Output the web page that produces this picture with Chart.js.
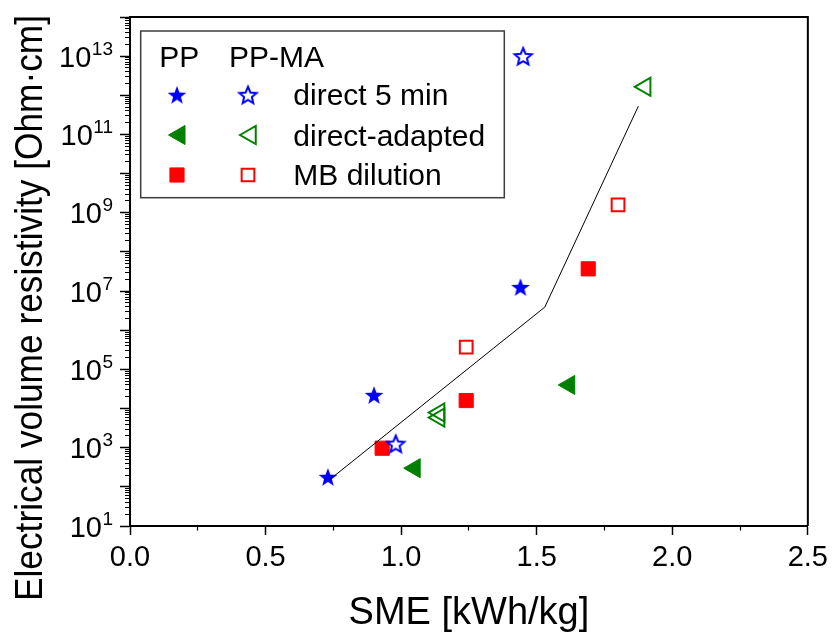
<!DOCTYPE html>
<html>
<head>
<meta charset="utf-8">
<title>Electrical volume resistivity vs SME</title>
<script src="https://cdn.jsdelivr.net/npm/chart.js@4.4.0/dist/chart.umd.min.js"></script>
<style>
  html, body { margin: 0; padding: 0; background: #fff; }
  #chart { display: block; }
</style>
</head>
<body>
<canvas id="chart" width="834" height="633"></canvas>
<script>
// SME [kWh/kg] and resistivity [Ohm·cm]
const ppDirectX = [0.73, 0.90, 1.44];
const ppDirectY = [1.7e2, 2.1e4, 1.2e7];
const maDirectX = [0.98, 1.45];
const maDirectY = [1.2e3, 9.5e12];

const ppAdaptedX = [1.05, 1.62];
const ppAdaptedY = [3.0e2, 4.0e4];
const maAdaptedX = [1.14, 1.14, 1.90];
const maAdaptedY = [7.9e3, 5.9e3, 1.65e12];

const ppDilutionX = [0.93, 1.24, 1.69];
const ppDilutionY = [9.7e2, 1.6e4, 3.7e7];
const maDilutionX = [1.24, 1.80];
const maDilutionY = [3.7e5, 1.6e9];

// thin black guide line
const trendX = [0.735, 1.53, 1.875];
const trendY = [1.5e2, 3.9e6, 5.3e11];

// axis labels
const xTickLabels = ["0.0", "0.5", "1.0", "1.5", "2.0", "2.5"];
const yTickExps = [1, 3, 5, 7, 9, 11, 13];
const legendHeader = ["PP", "PP-MA"];
const legendNames = ["direct 5 min", "direct-adapted", "MB dilution"];

const FONT = '"Liberation Sans", Arial, Helvetica, sans-serif';
const BLUE = "#0000ff";
const GREEN = "#008000";
const RED = "#ff0000";

Chart.defaults.font.family = FONT;
Chart.defaults.color = "#000";

function pts(xs, ys) {
  return xs.map((x, i) => ({ x: x, y: ys[i] }));
}

// five pointed star as a point style
function makeStar(color, filled) {
  const c = document.createElement("canvas");
  c.width = 26;
  c.height = 26;
  const g = c.getContext("2d");
  const R = filled ? 9.8 : 9;
  const r = R * (filled ? 0.42 : 0.45);
  g.beginPath();
  for (let i = 0; i < 10; i++) {
    const rad = i % 2 ? r : R;
    const ang = -Math.PI / 2 + i * Math.PI / 5;
    const px = 13 + rad * Math.cos(ang);
    const py = 13 + rad * Math.sin(ang);
    if (i === 0) g.moveTo(px, py); else g.lineTo(px, py);
  }
  g.closePath();
  if (filled) {
    g.fillStyle = color;
    g.fill();
  } else {
    g.strokeStyle = color;
    g.lineWidth = 2;
    g.stroke();
  }
  return c;
}

const starFilled = makeStar(BLUE, true);
const starOpen = makeStar(BLUE, false);

// y ticks at every 1..9 x 10^k
const yTickValues = [];
for (let k = 1; k <= 13; k++) {
  for (let m = 1; m <= 9; m++) yTickValues.push(m * Math.pow(10, k));
}
yTickValues.push(1e14);

function isDecade(v) {
  const e = Math.log10(v);
  return Math.abs(e - Math.round(e)) < 1e-6;
}
function isHalf(v) {
  return Math.abs(v * 2 - Math.round(v * 2)) < 1e-6;
}

// frame, y tick labels, y title and the two column legend
const extras = {
  id: "extras",
  afterDraw(chart) {
    const ctx = chart.ctx;
    const a = chart.chartArea;
    const y = chart.scales.y;
    ctx.save();

    // top and right frame
    ctx.strokeStyle = "#000";
    ctx.lineWidth = 2;
    ctx.beginPath();
    ctx.moveTo(a.left, a.top);
    ctx.lineTo(a.right, a.top);
    ctx.lineTo(a.right, a.bottom);
    ctx.stroke();

    // y tick labels 10^n
    ctx.fillStyle = "#000";
    ctx.textAlign = "right";
    ctx.textBaseline = "alphabetic";
    const right = y.right - 17;
    yTickExps.forEach(e => {
      const py = y.getPixelForValue(Math.pow(10, e));
      ctx.font = "19px " + FONT;
      const sup = String(e);
      ctx.fillText(sup, right, py - 1.5);
      const w = ctx.measureText(sup).width;
      ctx.font = "29px " + FONT;
      ctx.fillText("10", right - w - 0.5, py + 10.5);
    });

    // y title
    ctx.save();
    ctx.translate(42, 308);
    ctx.rotate(-Math.PI / 2);
    ctx.textAlign = "center";
    ctx.font = "38px " + FONT;
    ctx.fillText("Electrical volume resistivity [Ohm\u00b7cm]", 0, 0, 586);
    ctx.restore();

    // legend box
    ctx.strokeStyle = "#3c3c3c";
    ctx.lineWidth = 1.5;
    ctx.strokeRect(140.7, 31, 363.6, 166.7);

    ctx.textAlign = "left";
    ctx.font = "30px " + FONT;
    ctx.fillText(legendHeader[0], 159.3, 66.7);
    ctx.fillText(legendHeader[1], 229, 66.7);

    const ds = chart.data.datasets;
    const rows = [[1, 2], [3, 4], [5, 6]];
    const rowY = [95.7, 135, 175];
    const baseY = [105, 145.5, 185];
    rows.forEach((pair, i) => {
      pair.forEach((idx, j) => {
        const d = ds[idx];
        const cx = j === 0 ? 177 : 248;
        ctx.fillStyle = d.backgroundColor || "#000";
        ctx.strokeStyle = d.borderColor || "#000";
        ctx.lineWidth = d.borderWidth || 0;
        Chart.helpers.drawPoint(ctx, {
          pointStyle: d.pointStyle,
          rotation: d.rotation || 0,
          radius: d.pointRadius,
          borderWidth: d.borderWidth || 0
        }, cx + (d.pointStyle === "triangle" ? 2.5 : 0), rowY[i]);
      });
      ctx.fillStyle = "#000";
      ctx.fillText(legendNames[i], 293.3, baseY[i]);
    });

    ctx.restore();
  }
};

const ctx = document.getElementById("chart");

new Chart(ctx, {
  type: "scatter",
  data: {
    datasets: [
      {
        label: "trend",
        data: pts(trendX, trendY),
        showLine: true,
        borderColor: "#000",
        borderWidth: 1,
        pointRadius: 0,
        order: 0
      },
      {
        label: "PP direct 5 min",
        data: pts(ppDirectX, ppDirectY),
        pointStyle: starFilled,
        pointRadius: 10,
        backgroundColor: BLUE,
        borderColor: BLUE,
        borderWidth: 0,
        order: 1
      },
      {
        label: "PP-MA direct 5 min",
        data: pts(maDirectX, maDirectY),
        pointStyle: starOpen,
        pointRadius: 10,
        backgroundColor: BLUE,
        borderColor: BLUE,
        borderWidth: 0,
        order: 1
      },
      {
        label: "PP direct-adapted",
        data: pts(ppAdaptedX, ppAdaptedY),
        pointStyle: "triangle",
        rotation: -90,
        pointRadius: 11,
        backgroundColor: GREEN,
        borderColor: GREEN,
        borderWidth: 1,
        order: 1
      },
      {
        label: "PP-MA direct-adapted",
        data: pts(maAdaptedX, maAdaptedY),
        pointStyle: "triangle",
        rotation: -90,
        pointRadius: 10.5,
        backgroundColor: "rgba(0,0,0,0)",
        borderColor: GREEN,
        borderWidth: 2,
        order: 1
      },
      {
        label: "PP MB dilution",
        data: pts(ppDilutionX, ppDilutionY),
        pointStyle: "rect",
        pointRadius: 10,
        backgroundColor: RED,
        borderColor: RED,
        borderWidth: 1,
        order: 1
      },
      {
        label: "PP-MA MB dilution",
        data: pts(maDilutionX, maDilutionY),
        pointStyle: "rect",
        pointRadius: 9,
        backgroundColor: "rgba(0,0,0,0)",
        borderColor: RED,
        borderWidth: 2,
        order: 1
      }
    ]
  },
  options: {
    responsive: false,
    animation: false,
    events: [],
    layout: { padding: { top: 17, right: 24, left: 0, bottom: 0 } },
    plugins: {
      legend: { display: false },
      tooltip: { enabled: false }
    },
    scales: {
      x: {
        type: "linear",
        min: 0,
        max: 2.5,
        afterFit: s => { s.height = 107; },
        border: { color: "#000", width: 2 },
        grid: {
          drawOnChartArea: false,
          tickLength: 9,
          tickColor: "#000",
          tickWidth: c => (c.tick && isHalf(c.tick.value) ? 1.5 : 1.2),
          tickBorderDash: c => (c.tick && isHalf(c.tick.value) ? [] : [3.5, 50])
        },
        ticks: {
          stepSize: 0.25,
          autoSkip: false,
          maxRotation: 0,
          padding: 6,
          color: "#000",
          font: { size: 29 },
          callback: v => (isHalf(v) ? xTickLabels[Math.round(v * 2)] : "")
        },
        title: {
          display: true,
          text: "SME [kWh/kg]",
          color: "#000",
          font: { size: 38, lineHeight: 1 },
          padding: { top: 0, bottom: 0.5 }
        }
      },
      y: {
        type: "logarithmic",
        min: 10,
        max: 1e14,
        afterBuildTicks: s => {
          s.ticks = yTickValues.map(v => ({ value: v }));
        },
        afterFit: s => { s.width = 130; },
        border: { color: "#000", width: 2 },
        grid: {
          drawOnChartArea: false,
          tickLength: 10,
          tickColor: "#000",
          tickWidth: c => (c.tick && isDecade(c.tick.value) ? 1.5 : 1),
          tickBorderDash: c => (c.tick && isDecade(c.tick.value) ? [] : [0, 5, 5, 50])
        },
        ticks: { display: false, autoSkip: false }
      }
    }
  },
  plugins: [extras]
});
</script>
</body>
</html>
